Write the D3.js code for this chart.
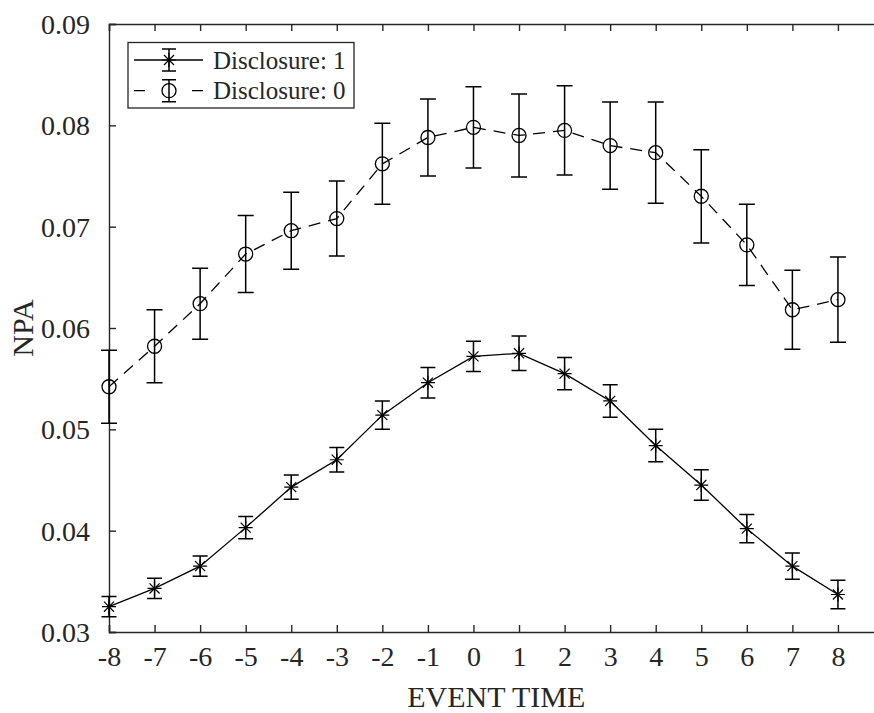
<!DOCTYPE html>
<html>
<head>
<meta charset="utf-8">
<script src="https://cdn.jsdelivr.net/npm/d3@7"></script>
<style>
  body { margin: 0; background: #fff; }
  svg { display: block; font-family: "Liberation Serif", "Times New Roman", serif; }
</style>
</head>
<body>
<svg width="874" height="713"></svg>
<script>
// data
const eventTime = [-8, -7, -6, -5, -4, -3, -2, -1, 0, 1, 2, 3, 4, 5, 6, 7, 8];
const npa1 = [0.0325, 0.0343, 0.0365, 0.0403, 0.0443, 0.0470, 0.0514, 0.0546, 0.0572, 0.0575, 0.0555, 0.0528, 0.0484, 0.0445, 0.0402, 0.0365, 0.0337];
const err1 = [0.0010, 0.0010, 0.0010, 0.0011, 0.0012, 0.0012, 0.0014, 0.0015, 0.0015, 0.0017, 0.0016, 0.0016, 0.0016, 0.0015, 0.0014, 0.0013, 0.0014];
const npa0 = [0.0542, 0.0582, 0.0624, 0.0673, 0.0696, 0.0708, 0.0762, 0.0788, 0.0798, 0.0790, 0.0795, 0.0780, 0.0773, 0.0730, 0.0682, 0.0618, 0.0628];
const err0 = [0.0036, 0.0036, 0.0035, 0.0038, 0.0038, 0.0037, 0.0040, 0.0038, 0.0040, 0.0041, 0.0044, 0.0043, 0.0050, 0.0046, 0.0040, 0.0039, 0.0042];
const yTicks = [0.03, 0.04, 0.05, 0.06, 0.07, 0.08, 0.09];
const legendLabels = ['Disclosure: 1', 'Disclosure: 0'];

const svg = d3.select('svg');
const axisColor = '#262626';

// plot box (right edge falls just outside the picture)
const plotLeft = 109, plotRight = 883.5, plotTop = 24, plotBottom = 632;

const x = d3.scaleLinear().domain([-8, 9]).range([plotLeft, plotRight]);
const y = d3.scaleLinear().domain([0.03, 0.09]).range([plotBottom, plotTop]);

// axes, ticks pointing inward like matlab; plain hyphen for negatives
const xAxisBottom = svg.append('g')
    .attr('transform', `translate(0,${plotBottom})`)
    .call(d3.axisBottom(x).tickValues(eventTime).tickSize(-7).tickPadding(14).tickFormat(d => String(d)));
const xAxisTop = svg.append('g')
    .attr('transform', `translate(0,${plotTop})`)
    .call(d3.axisTop(x).tickValues(eventTime).tickSize(-7).tickFormat(''));
const yAxis = svg.append('g')
    .attr('transform', `translate(${plotLeft},0)`)
    .call(d3.axisLeft(y).tickValues(yTicks).tickSize(-7).tickPadding(19).tickFormat(d => d.toFixed(2)));

[xAxisBottom, xAxisTop, yAxis].forEach(a => {
  a.select('.domain').attr('stroke', axisColor).attr('stroke-width', 1.4);
  a.selectAll('.tick line').attr('stroke', axisColor).attr('stroke-width', 1.4);
  a.selectAll('.tick text')
      .attr('fill', axisColor)
      .style('font-size', '28px')
      .style('font-family', '"Liberation Serif", "Times New Roman", serif');
});
yAxis.selectAll('.tick text').attr('dy', '0.34em');

// axis titles
svg.append('text')
    .attr('x', (plotLeft + plotRight) / 2)
    .attr('y', 707)
    .attr('text-anchor', 'middle')
    .attr('fill', axisColor)
    .style('font-size', '30px')
    .text('EVENT TIME');

svg.append('text')
    .attr('transform', `translate(33,${(plotTop + plotBottom) / 2}) rotate(-90)`)
    .attr('text-anchor', 'middle')
    .attr('fill', axisColor)
    .style('font-size', '30px')
    .text('NPA');

// asterisk marker = plus + cross
const star = (r) => {
  const d = r * 0.72;
  return `M${-r},0L${r},0M0,${-r}L0,${r}M${-d},${-d}L${d},${d}M${-d},${d}L${d},${-d}`;
};

function drawSeries(vals, errs, opts) {
  const g = svg.append('g');
  const line = d3.line().x((d, i) => x(eventTime[i])).y(d => y(d));

  g.append('path')
      .datum(vals)
      .attr('d', line)
      .attr('fill', 'none')
      .attr('stroke', '#000')
      .attr('stroke-width', 1.3)
      .attr('stroke-dasharray', opts.dash);

  const bars = g.selectAll('.eb')
      .data(vals)
      .join('g')
      .attr('transform', (d, i) => `translate(${x(eventTime[i])},0)`);

  bars.append('path')
      .attr('d', (d, i) => {
        const y1 = y(d + errs[i]), y2 = y(d - errs[i]), c = opts.cap;
        return `M0,${y1}L0,${y2}M${-c},${y1}L${c},${y1}M${-c},${y2}L${c},${y2}`;
      })
      .attr('fill', 'none')
      .attr('stroke', '#000')
      .attr('stroke-width', 1.5);

  if (opts.marker === 'circle') {
    bars.append('circle')
        .attr('cy', d => y(d))
        .attr('r', 7)
        .attr('fill', 'none')
        .attr('stroke', '#000')
        .attr('stroke-width', 1.3);
  } else {
    bars.append('path')
        .attr('transform', d => `translate(0,${y(d)})`)
        .attr('d', star(7))
        .attr('fill', 'none')
        .attr('stroke', '#000')
        .attr('stroke-width', 1.2);
  }
}

drawSeries(npa0, err0, { dash: '12,8', cap: 8, marker: 'circle' });
drawSeries(npa1, err1, { dash: null, cap: 7.5, marker: 'star' });

// legend
const legend = svg.append('g');
legend.append('rect')
    .attr('x', 128).attr('y', 42.5)
    .attr('width', 226).attr('height', 65.5)
    .attr('fill', '#fff')
    .attr('stroke', axisColor)
    .attr('stroke-width', 1.3);

const rows = legend.selectAll('.row')
    .data(legendLabels)
    .join('g')
    .attr('transform', (d, i) => `translate(0,${60 + i * 30.7})`);

rows.append('path')
    .attr('d', 'M134,0L203,0')
    .attr('stroke', '#000')
    .attr('stroke-width', 1.3)
    .attr('stroke-dasharray', (d, i) => i === 0 ? null : '11,47');

rows.append('path')
    .attr('d', 'M169,-11L169,11M162,-11L176,-11M162,11L176,11')
    .attr('fill', 'none')
    .attr('stroke', '#000')
    .attr('stroke-width', 1.5);

rows.each(function (d, i) {
  const r = d3.select(this);
  if (i === 0) {
    r.append('path').attr('transform', 'translate(169,0)').attr('d', star(7))
        .attr('fill', 'none').attr('stroke', '#000').attr('stroke-width', 1.2);
  } else {
    r.append('circle').attr('cx', 169).attr('r', 7)
        .attr('fill', 'none').attr('stroke', '#000').attr('stroke-width', 1.3);
  }
});

rows.append('text')
    .attr('x', 213)
    .attr('dy', '0.34em')
    .attr('fill', axisColor)
    .style('font-size', '25px')
    .text(d => d);
</script>
</body>
</html>
